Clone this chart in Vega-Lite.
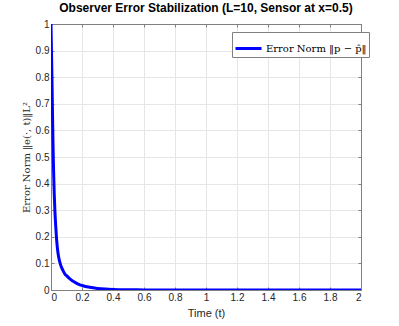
{
  "$schema": "https://vega.github.io/schema/vega-lite/v6.json",
  "width": 310,
  "height": 266,
  "autosize": "none",
  "padding": {"left": 51, "top": 24, "right": 38, "bottom": 36},
  "background": "white",
  "title": {
    "text": "Observer Error Stabilization (L=10, Sensor at x=0.5)",
    "font": "Liberation Sans",
    "fontSize": 12,
    "fontWeight": "bold",
    "color": "#000000",
    "offset": 4,
    "anchor": "middle"
  },
  "config": {
    "view": {"stroke": "#808080", "strokeWidth": 1},
    "axis": {
      "domainColor": "#808080",
      "tickColor": "#808080",
      "gridColor": "#e6e6e6",
      "labelFont": "Liberation Sans",
      "labelFontSize": 10,
      "labelColor": "#262626",
      "titleColor": "#262626",
      "tickSize": -3,
      "labelPadding": 5
    }
  },
  "data": {
    "values": [
      {"t": 0, "e": 1.0},
      {"t": 0.003, "e": 0.9},
      {"t": 0.006, "e": 0.8},
      {"t": 0.009, "e": 0.69},
      {"t": 0.012, "e": 0.58},
      {"t": 0.015, "e": 0.49},
      {"t": 0.018, "e": 0.42},
      {"t": 0.021, "e": 0.36},
      {"t": 0.025, "e": 0.3},
      {"t": 0.03, "e": 0.245},
      {"t": 0.035, "e": 0.2},
      {"t": 0.04, "e": 0.165},
      {"t": 0.045, "e": 0.14},
      {"t": 0.05, "e": 0.122},
      {"t": 0.06, "e": 0.098},
      {"t": 0.07, "e": 0.082},
      {"t": 0.08, "e": 0.07},
      {"t": 0.09, "e": 0.06},
      {"t": 0.1, "e": 0.054},
      {"t": 0.12, "e": 0.043},
      {"t": 0.14, "e": 0.034},
      {"t": 0.16, "e": 0.027},
      {"t": 0.18, "e": 0.021},
      {"t": 0.2, "e": 0.017},
      {"t": 0.25, "e": 0.01},
      {"t": 0.3, "e": 0.006},
      {"t": 0.35, "e": 0.0037},
      {"t": 0.4, "e": 0.0023},
      {"t": 0.5, "e": 0.0009},
      {"t": 0.6, "e": 0.0004},
      {"t": 0.8, "e": 0.0001},
      {"t": 1.0, "e": 0.00002},
      {"t": 1.5, "e": 0},
      {"t": 2.0, "e": 0}
    ]
  },
  "layer": [
    {
      "mark": {"type": "line", "strokeWidth": 3, "interpolate": "monotone", "clip": true},
      "encoding": {
        "x": {
          "field": "t", "type": "quantitative",
          "scale": {"domain": [0, 2], "nice": false},
          "axis": {
            "values": [0, 0.2, 0.4, 0.6, 0.8, 1, 1.2, 1.4, 1.6, 1.8, 2],
            "format": ".1~f",
            "title": "Time (t)",
            "titleFont": "Liberation Sans",
            "titleFontSize": 11,
            "titleFontWeight": "normal",
            "titlePadding": 5
          }
        },
        "y": {
          "field": "e", "type": "quantitative",
          "scale": {"domain": [0, 1], "nice": false},
          "axis": {
            "values": [0, 0.1, 0.2, 0.3, 0.4, 0.5, 0.6, 0.7, 0.8, 0.9, 1],
            "format": ".1~f",
            "title": "Error Norm ‖e(·, t)‖L²",
            "titleFont": "DejaVu Serif",
            "titleFontSize": 10,
            "titleFontWeight": "normal",
            "titlePadding": 4
          }
        },
        "color": {
          "datum": "Error Norm ‖p − p̂‖",
          "type": "nominal",
          "scale": {"range": ["#0000ff"]},
          "legend": {
            "title": null,
            "orient": "none",
            "legendX": 181,
            "legendY": 8,
            "direction": "vertical",
            "symbolType": "stroke",
            "symbolSize": 676,
            "symbolStrokeWidth": 3,
            "labelFont": "DejaVu Serif",
            "labelFontSize": 10,
            "labelColor": "#000000",
            "labelOffset": 3,
            "strokeColor": "#808080",
            "fillColor": "white",
            "padding": 2
          }
        }
      }
    },
    {
      "mark": {"type": "line", "strokeOpacity": 0},
      "encoding": {
        "x": {
          "field": "t", "type": "quantitative",
          "axis": {"orient": "top", "values": [0, 0.2, 0.4, 0.6, 0.8, 1, 1.2, 1.4, 1.6, 1.8, 2], "labels": false, "grid": false, "title": null}
        },
        "y": {
          "field": "e", "type": "quantitative",
          "axis": {"orient": "right", "values": [0, 0.1, 0.2, 0.3, 0.4, 0.5, 0.6, 0.7, 0.8, 0.9, 1], "labels": false, "grid": false, "title": null}
        }
      }
    }
  ],
  "resolve": {"axis": {"x": "independent", "y": "independent"}}
}
